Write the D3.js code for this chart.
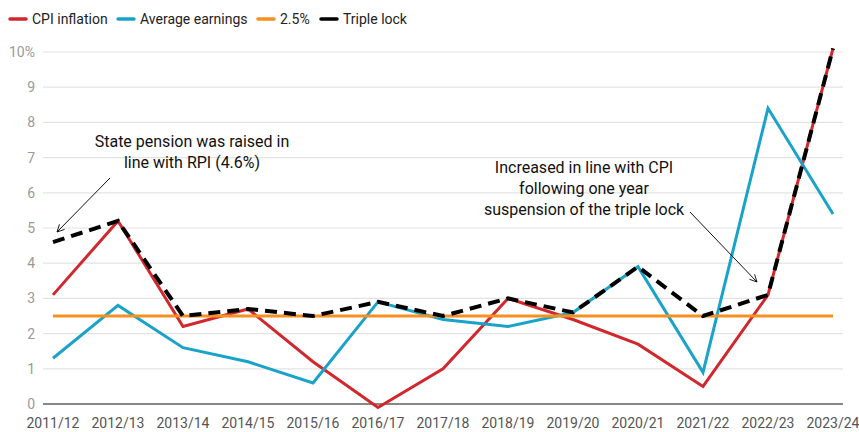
<!DOCTYPE html>
<html>
<head>
<meta charset="utf-8">
<script src="https://cdn.jsdelivr.net/npm/d3@7"></script>
<style>
  body { margin: 0; background: #fff; }
  svg { font-family: Roboto, "Noto Sans", sans-serif; }
</style>
</head>
<body>
<div id="chart"></div>
<script>
// pension uprating vs its components
var years = ['2011/12', '2012/13', '2013/14', '2014/15', '2015/16', '2016/17', '2017/18',
    '2018/19', '2019/20', '2020/21', '2021/22', '2022/23', '2023/24'];

var cpi = [3.1, 5.2, 2.2, 2.7, 1.2, -0.1, 1.0, 3.0, 2.4, 1.7, 0.5, 3.1, 10.1];
var earnings = [1.3, 2.8, 1.6, 1.2, 0.6, 2.9, 2.4, 2.2, 2.6, 3.9, 0.9, 8.4, 5.4];
var floor = [2.5, 2.5, 2.5, 2.5, 2.5, 2.5, 2.5, 2.5, 2.5, 2.5, 2.5, 2.5, 2.5];
var tripleLock = [4.6, 5.2, 2.5, 2.7, 2.5, 2.9, 2.5, 3.0, 2.6, 3.9, 2.5, 3.1, 10.1];

var yTicks = [0, 1, 2, 3, 4, 5, 6, 7, 8, 9, 10];

var series = [
    { name: 'CPI inflation', values: cpi, color: '#d1282e' },
    { name: 'Average earnings', values: earnings, color: '#1aa3c9' },
    { name: '2.5%', values: floor, color: '#f7901e' },
    { name: 'Triple lock', values: tripleLock, color: '#000', dash: '12,7' }
];

var width = 859, height = 432;

var svg = d3.select('#chart').append('svg')
    .attr('width', width)
    .attr('height', height);

var x = d3.scalePoint().domain(years).range([53, 833]);
var y = d3.scaleLinear().domain([0, 10]).range([404, 52]);

// gridlines
svg.append('g')
    .selectAll('line').data(yTicks.filter(function(d) { return d > 0 }))
    .enter().append('line')
    .attr('x1', 43).attr('x2', 843)
    .attr('y1', function(d) { return y(d) })
    .attr('y2', function(d) { return y(d) })
    .attr('stroke', '#e3e3e3')
    .attr('stroke-width', 1.2);

// y labels
svg.append('g')
    .selectAll('text').data(yTicks)
    .enter().append('text')
    .attr('x', 35)
    .attr('y', function(d) { return y(d) + 5 })
    .attr('text-anchor', 'end')
    .attr('fill', '#9a9a9a')
    .style('font-size', '14px')
    .text(function(d) { return d == 10 ? '10%' : d });

// x labels
svg.append('g')
    .selectAll('text').data(years)
    .enter().append('text')
    .attr('x', function(d) { return x(d) })
    .attr('y', 428)
    .attr('text-anchor', 'middle')
    .attr('fill', '#555')
    .style('font-size', '14px')
    .text(function(d) { return d });

// baseline
svg.append('line')
    .attr('x1', 43).attr('x2', 843)
    .attr('y1', y(0)).attr('y2', y(0))
    .attr('stroke', '#111')
    .attr('stroke-width', 1.2);

var line = d3.line()
    .x(function(d, i) { return x(years[i]) })
    .y(function(d) { return y(d) });

series.forEach(function(s) {
    svg.append('path')
        .datum(s.values)
        .attr('d', line)
        .attr('fill', 'none')
        .attr('stroke', s.color)
        .attr('stroke-width', s.dash ? 4 : 3)
        .attr('stroke-dasharray', s.dash || null);
});

// legend
var legendX = [10, 118, 258, 321];
var legend = svg.append('g')
    .selectAll('g').data(series)
    .enter().append('g')
    .attr('transform', function(d, i) { return 'translate(' + legendX[i] + ',19)' });

legend.append('line')
    .attr('x1', 0).attr('x2', 16)
    .attr('stroke', function(d) { return d.color })
    .attr('stroke-width', 3.5)
    .attr('stroke-linecap', 'round');

legend.append('text')
    .attr('x', 22)
    .attr('y', 5)
    .attr('fill', '#222')
    .style('font-size', '14px')
    .text(function(d) { return d.name });

// annotations
svg.append('defs').append('marker')
    .attr('id', 'arrow')
    .attr('viewBox', '0 0 10 10')
    .attr('refX', 9).attr('refY', 5)
    .attr('markerWidth', 9).attr('markerHeight', 9)
    .attr('orient', 'auto')
    .append('path')
    .attr('d', 'M1,1 L9,5 L1,9')
    .attr('fill', 'none')
    .attr('stroke', '#111')
    .attr('stroke-width', 1);

var notes = [
    { lines: ['State pension was raised in', 'line with RPI (4.6%)'], cx: 192, top: 147, from: [110, 178], to: [57, 232] },
    { lines: ['Increased in line with CPI', 'following one year', 'suspension of the triple lock'], cx: 584, top: 173, from: [690, 212], to: [757, 282] }
];

notes.forEach(function(n) {
    svg.append('text')
        .attr('text-anchor', 'middle')
        .attr('fill', '#111')
        .style('font-size', '16px')
        .selectAll('tspan').data(n.lines)
        .enter().append('tspan')
        .attr('x', n.cx)
        .attr('y', function(d, i) { return n.top + i * 21 })
        .text(function(d) { return d });

    svg.append('line')
        .attr('x1', n.from[0]).attr('y1', n.from[1])
        .attr('x2', n.to[0]).attr('y2', n.to[1])
        .attr('stroke', '#111')
        .attr('stroke-width', 1)
        .attr('marker-end', 'url(#arrow)');
});
</script>
</body>
</html>
